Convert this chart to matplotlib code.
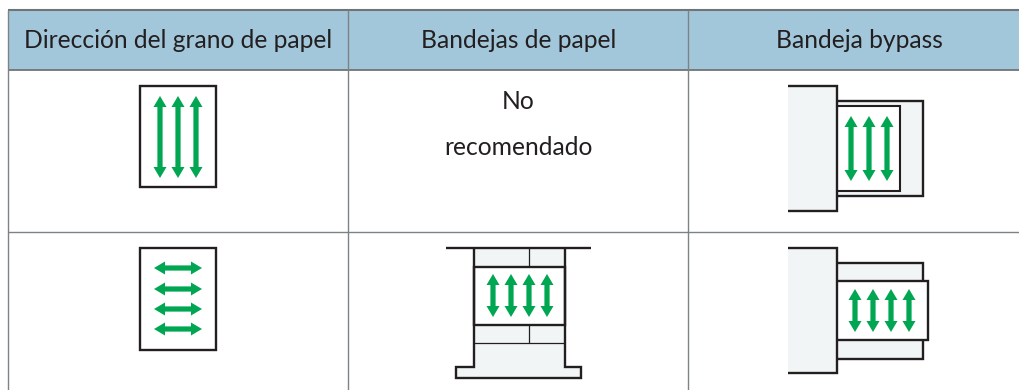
import matplotlib
matplotlib.use('Agg')
import matplotlib.pyplot as plt
from matplotlib.patches import Polygon, Rectangle

headers = ['Dirección del grano de papel', 'Bandejas de papel', 'Bandeja bypass']
no_rec_lines = ['No', 'recomendado']

GREEN = '#00a651'
INK = '#231f20'
GRID = '#7d8285'
HEAD = '#a3c7da'
FILL = '#f1f5f6'

plt.rcParams['font.family'] = ['Lato', 'DejaVu Sans']

fig = plt.figure(figsize=(10.2, 3.9), dpi=100)
ax = fig.add_axes([0, 0, 1, 1])
ax.set_xlim(0, 1020)
ax.set_ylim(390, 0)
ax.axis('off')


def box(x0, y0, x1, y1, fc='white', lw=1.7, ec=INK, z=2):
    ax.add_patch(Rectangle((x0, y0), x1 - x0, y1 - y0, fc=fc, ec=ec, lw=lw, zorder=z, joinstyle='miter'))


def line(xs, ys, lw=1.7, c=INK, z=3):
    ax.plot(xs, ys, color=c, lw=lw, zorder=z, solid_capstyle='butt', solid_joinstyle='miter')


def varrow(x, y0, y1, hw=6.5, hl=11, sw=2.6):
    pts = [(x, y0), (x + hw, y0 + hl), (x + sw, y0 + hl), (x + sw, y1 - hl), (x + hw, y1 - hl), (x, y1),
           (x - hw, y1 - hl), (x - sw, y1 - hl), (x - sw, y0 + hl), (x - hw, y0 + hl)]
    ax.add_patch(Polygon(pts, closed=True, fc=GREEN, ec='none', zorder=5))


def harrow(y, x0, x1, hw=6.5, hl=11, sw=2.6):
    pts = [(x0, y), (x0 + hl, y - hw), (x0 + hl, y - sw), (x1 - hl, y - sw), (x1 - hl, y - hw), (x1, y),
           (x1 - hl, y + hw), (x1 - hl, y + sw), (x0 + hl, y + sw), (x0 + hl, y + hw)]
    ax.add_patch(Polygon(pts, closed=True, fc=GREEN, ec='none', zorder=5))


# table
ax.add_patch(Rectangle((8, 10), 1012, 60, fc=HEAD, ec='none', zorder=1))
line([8, 1020], [10, 10], lw=1.5, c='#6f7477')
line([8, 1020], [70, 70], lw=1.3, c='#6f7477')
line([8, 1020], [231.5, 231.5], lw=1.0, c=GRID)
for xv in [8, 348.5, 688.5]:
    line([xv, xv], [10, 390], lw=1.0, c=GRID)

centers = [178.5, 518.5, 859]
for cx, label in zip(centers, headers):
    ax.text(cx, 40, label, ha='center', va='center', fontsize=17.7, color=INK, zorder=6)
ax.text(518, 101.5, no_rec_lines[0], ha='center', va='center', fontsize=17.7, color=INK)
ax.text(518, 147.5, no_rec_lines[1], ha='center', va='center', fontsize=17.7, color=INK)

# long grain sheet
box(140, 86, 216, 187)
for x in [160, 178, 196]:
    varrow(x, 96, 178)

# short grain sheet
box(140, 248, 216, 350)
for y in [268, 289, 309, 329]:
    harrow(y, 154, 202)

# bypass, long grain
ax.add_patch(Rectangle((788, 86), 49, 125, fc=FILL, ec='none', zorder=2))
box(825, 101, 923, 196, fc=FILL, z=1.5)
box(830, 106, 900.5, 191, fc='white', lw=1.5, z=1.6)
line([788, 837, 837, 788], [86, 86, 211, 211])
for x in [851, 869, 887]:
    varrow(x, 116, 181)

# paper tray
ax.add_patch(Rectangle((474, 248), 91, 118, fc=FILL, ec='none', zorder=1.5))
ax.add_patch(Polygon([(456, 367), (474, 367), (474, 343), (565, 343), (565, 367), (581, 367), (581, 378), (456, 378)],
                     closed=True, fc=FILL, ec='none', zorder=1.5))
line([446, 591], [248, 248])
line([474, 474, 456, 456, 581, 581, 565, 565], [248, 367, 367, 378, 378, 367, 367, 248])
box(474, 267, 565, 325, fc='white')
line([474, 565], [343, 343], lw=0.9)
line([529, 529], [248, 267], lw=0.9)
line([529, 529], [325, 343], lw=0.9)
for x in [493, 511, 529, 547]:
    varrow(x, 274, 317)

# bypass, short grain
ax.add_patch(Rectangle((788, 248), 49, 125, fc=FILL, ec='none', zorder=2))
box(825, 263, 923, 359, fc=FILL, z=1.5)
box(830, 281, 928.5, 340, fc='white', z=1.6)
line([788, 837, 837, 788], [248, 248, 373, 373])
for x in [855, 873, 891, 909]:
    varrow(x, 289, 332)

fig.savefig('out.png', dpi=100)
